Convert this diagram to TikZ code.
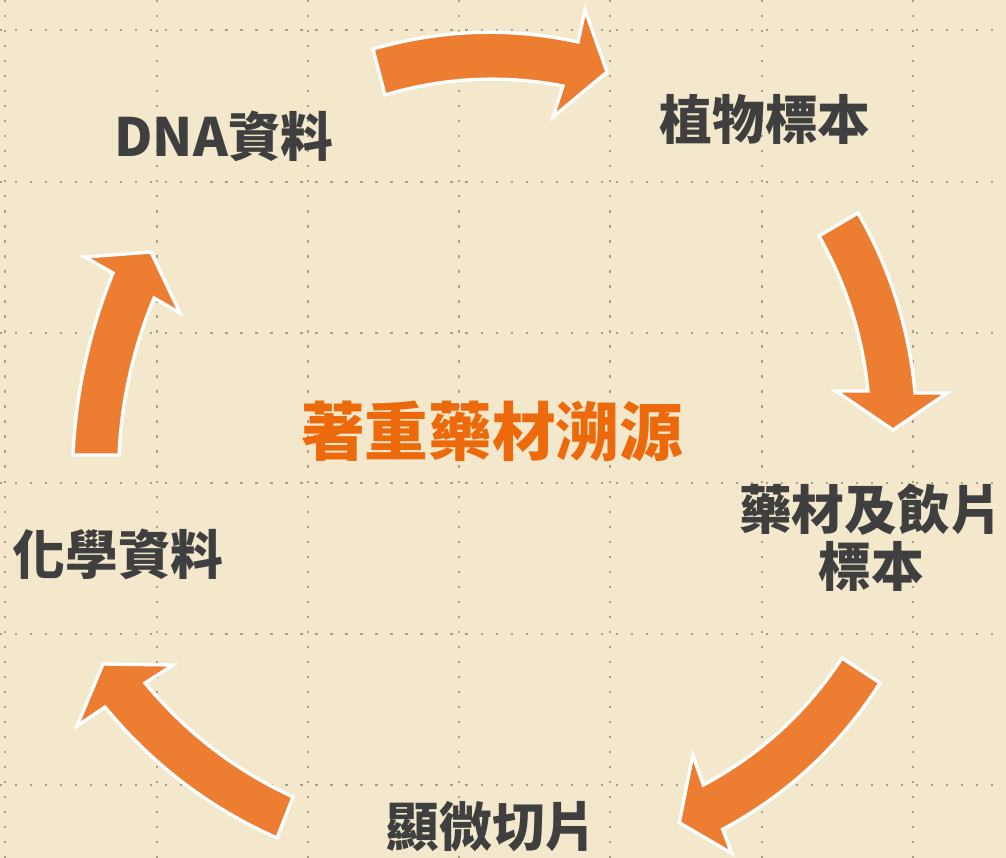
\documentclass[tikz,border=0pt]{standalone}
\usepackage{fontspec}
\usetikzlibrary{calc}
\newfontfamily\cjk{Noto Sans CJK TC}
\definecolor{bgcol}{RGB}{243,232,204}
\definecolor{dotcol}{RGB}{168,158,138}
\definecolor{arrowcol}{RGB}{237,125,49}
\definecolor{txtcol}{RGB}{63,63,63}
\definecolor{titlecol}{RGB}{237,106,12}
\tikzset{
  gridline/.style={dotcol, line width=0.65pt, dash pattern=on 0.65pt off 3.62pt},
  blockarrow/.style={fill=arrowcol, draw=white, line width=0.95pt, line join=miter},
  label/.style={inner sep=0pt, text=txtcol, font=\cjk\bfseries\fontsize{15pt}{16.2pt}\selectfont, align=center},
  title/.style={inner sep=0pt, text=titlecol, font=\cjk\bfseries\fontsize{18.1pt}{20pt}\selectfont}
}
% quadratic Bezier edge from #1 to #3 with control #2
\def\qedge#1#2#3{.. controls ($#1!0.6667!#2$) and ($#3!0.6667!#2$) .. #3}
\begin{document}
\begin{tikzpicture}[x=0.01cm,y=-0.01cm]
\useasboundingbox (0,0) rectangle (1006,858);
\fill[bgcol] (0,0) rectangle (1006,858);
% dotted grid
\foreach \gx in {5,157,308,459,610,762,913} \draw[gridline] (\gx,0) -- (\gx,858);
\foreach \gy in {30,182,333,483,634,785} \draw[gridline] (0,\gy) -- (1006,\gy);
% arrow: DNA -> plant specimen (top)
\draw[blockarrow] (373,49) \qedge{(373,49)}{(476,19.5)}{(578,42)} -- (585,10) -- (607,72) -- (553,117) -- (563,86)
  \qedge{(563,86)}{(473,68.7)}{(385,95)} -- cycle;
% arrow: right, downward
\draw[blockarrow] (858,213) \qedge{(858,213)}{(906.3,296.7)}{(915,393)} -- (947,393) -- (893,430) -- (836,391) -- (868,391)
  \qedge{(868,391)}{(859.9,308.3)}{(819,236)} -- cycle;
% arrow: bottom right, down-left
\draw[blockarrow] (880,683) \qedge{(880,683)}{(820.5,776.7)}{(722.7,829.3)} -- (731.7,853.3) -- (679.3,822.7) -- (692.7,755) -- (703.3,785)
  \qedge{(703.3,785)}{(788.9,739.2)}{(842,658)} -- cycle;
% arrow: bottom left, up-left
\draw[blockarrow] (293,797) \qedge{(293,797)}{(206.1,756.8)}{(145,683)} -- (173,665) -- (103,664) -- (77,726) -- (105,707)
  \qedge{(105,707)}{(175.5,792.9)}{(277,838)} -- cycle;
% arrow: left, upward
\draw[blockarrow] (119,455) \qedge{(119,455)}{(122.8,373.5)}{(154,298)} -- (180,313) -- (151,252) -- (85,257) -- (113,273)
  \qedge{(113,273)}{(77.4,360.6)}{(73,455)} -- cycle;
% labels
\node[label] (dna) at (224,136) {DNA資料};
\node[label] (plant) at (765,119) {植物標本};
\node[label] (herb) at (871,538) {藥材及飲片\\標本};
\node[label] (micro) at (492,827) {顯微切片};
\node[label] (chem) at (118,554) {化學資料};
\node[title] (center) at (492,431) {著重藥材溯源};
\end{tikzpicture}
\end{document}
